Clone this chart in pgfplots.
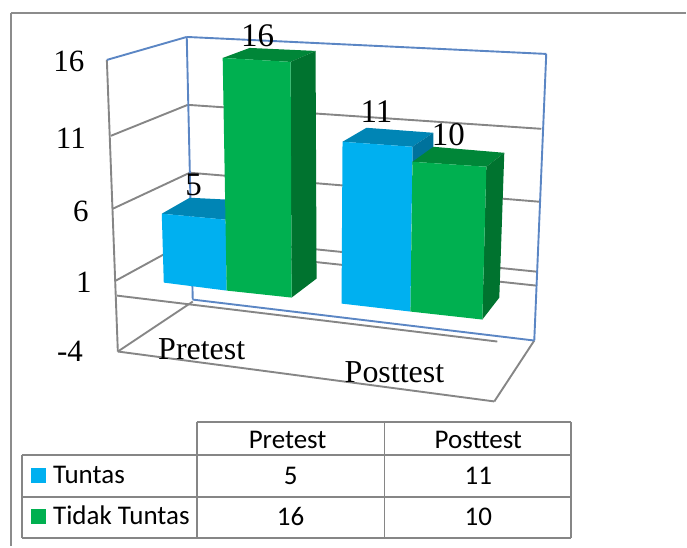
\documentclass[border=0pt]{standalone}
\usepackage{pgfplots}
\pgfplotsset{compat=1.18}
\usepackage{fontspec}
\setmainfont{Liberation Serif}
\newfontfamily\tablefont{Carlito}
\definecolor{tuntas}{HTML}{00B0F0}
\definecolor{tuntastop}{HTML}{0085B5}
\definecolor{tuntasside}{HTML}{00729C}
\definecolor{tidak}{HTML}{00B050}
\definecolor{tidaktop}{HTML}{008638}
\definecolor{tidakside}{HTML}{00732F}
\definecolor{gridgrey}{HTML}{868686}
\definecolor{wallblue}{HTML}{5B86C4}
\definecolor{framegrey}{HTML}{8C8C8C}
% straight segment in drawing coordinates
\newcommand{\seg}[3]{\addplot[#1,line width=1.9pt,no marks] coordinates {#2 #3};}
% one polygon of a bar: each vertex is "x  base  value  pixels-per-unit"
\newcommand{\face}[2]{\addplot[fill=#1,draw=none,no marks] table[row sep=\\,x=x,y expr=\thisrow{b}-\thisrow{v}*\thisrow{k}] {x b v k\\ #2};}
\begin{document}
\begin{tikzpicture}
\begin{axis}[
  scale only axis,width=687pt,height=547pt,
  xmin=0,xmax=687,ymin=0,ymax=547,y dir=reverse,
  hide axis,clip=false,
  /pgf/number format/assume math mode=true,
]
% keep the whole drawing area on the page
\path (axis cs:0,0) rectangle (axis cs:687,547);
% page frame
\seg{framegrey}{(11,547)}{(11,13)}
\seg{framegrey}{(11,13)}{(687,13)}
% side wall, back wall and floor
\seg{gridgrey}{(107,60)}{(118,352)}
\seg{gridgrey}{(111,136)}{(188,105)}
\seg{gridgrey}{(113,209)}{(190,173)}
\seg{gridgrey}{(116,281)}{(191,240)}
\seg{gridgrey}{(118,352)}{(193,302)}
\seg{gridgrey}{(188,105)}{(542,129)}
\seg{gridgrey}{(190,173)}{(540,202)}
\seg{gridgrey}{(191,237)}{(537,272)}
\seg{gridgrey}{(200,250)}{(537,286)}
\seg{gridgrey}{(117,296)}{(498,342)}
\seg{gridgrey}{(118,352)}{(495,402)}
\seg{gridgrey}{(495,402)}{(535,341)}
\seg{wallblue}{(107,60)}{(187,37)}
\seg{wallblue}{(187,37)}{(547,54)}
\seg{wallblue}{(187,37)}{(193,300)}
\seg{wallblue}{(547,54)}{(535,341)}
\seg{wallblue}{(193,300)}{(535,341)}
% Pretest, Tuntas = 5
\face{tuntastop}{
162 283 5 13.8\\
190 268 5 14.0\\
230 270 5 14.0\\
226 291 5 14.2\\
}
\face{tuntas}{
164 283 0 13.8\\
162 283 5 13.8\\
226 291 5 14.2\\
227 291 0 14.2\\
}
% Pretest, Tidak Tuntas = 16
\face{tidaktop}{
223 291 16 14.56\\
250 276 16 14.25\\
316 279 16 14.25\\
291 298 16 14.75\\
}
\face{tidakside}{
291 298 16 14.75\\
316 279 16 14.25\\
317 279 0 14.25\\
292 298 0 14.75\\
}
\face{tidak}{
227 291 0 14.56\\
223 291 16 14.56\\
291 298 16 14.75\\
292 298 0 14.75\\
}
% Posttest, Tuntas = 11
\face{tuntastop}{
343 304 11 14.73\\
367 290 11 14.73\\
434 295 11 14.73\\
413 312 11 15.0\\
}
\face{tuntasside}{
413 312 11 15.0\\
434 295 11 14.73\\
434 295 9.8 14.73\\
413 312 9.8 15.0\\
}
\face{tuntas}{
342 304 0 14.73\\
343 304 11 14.73\\
413 312 11 15.0\\
411 312 0 15.0\\
}
% Posttest, Tidak Tuntas = 10
\face{tidaktop}{
413 312 10 15.0\\
434 298 10 15.1\\
505 298 10 14.5\\
487 320 10 15.3\\
}
\face{tidakside}{
487 320 10 15.3\\
505 298 10 14.5\\
500 298 0 14.5\\
483 320 0 15.3\\
}
\face{tidak}{
411 312 0 15.0\\
413 312 10 15.0\\
487 320 10 15.3\\
483 320 0 15.3\\
}
% value labels above the bars
\addplot[draw=none,no marks,point meta=explicit,
  nodes near coords,
  nodes near coords style={font=\fontsize{33}{33}\selectfont,anchor=center,text=black,inner sep=0pt},
] table[x=x,y=y,meta=v,row sep=\\] {
x y v\\
194 185 5\\
258 36 16\\
377 112 11\\
449 135 10\\
};
% value axis labels and category labels
\begin{scope}[every node/.style={font=\fontsize{31}{31}\selectfont,inner sep=0pt,anchor=center}]
\node at (axis cs:69,61) {16};
\node at (axis cs:71,138) {11};
\node at (axis cs:81,212) {6};
\node at (axis cs:84,283) {1};
\node at (axis cs:70,352) {-4};
\end{scope}
\begin{scope}[every node/.style={font=\fontsize{32}{32}\selectfont,inner sep=0pt,anchor=center}]
\node at (axis cs:202,350) {Pretest};
\node at (axis cs:395,373) {Posttest};
\end{scope}
% data table under the plot
\seg{gridgrey}{(197,423)}{(572,423)}
\seg{gridgrey}{(22,456)}{(572,456)}
\seg{gridgrey}{(22,498)}{(572,498)}
\seg{gridgrey}{(22,539)}{(572,539)}
\seg{gridgrey}{(22,456)}{(22,539)}
\seg{gridgrey}{(197,423)}{(197,539)}
\seg{gridgrey}{(385,423)}{(385,539)}
\seg{gridgrey}{(572,423)}{(572,539)}
\addplot[fill=tuntas,draw=none] coordinates {(31,469) (46,469) (46,484) (31,484)};
\addplot[fill=tidak,draw=none] coordinates {(31,510) (46,510) (46,525) (31,525)};
\begin{scope}[every node/.style={font=\tablefont\fontsize{27}{27}\selectfont,inner sep=0pt}]
\node[anchor=base west] at (axis cs:53,484) {Tuntas};
\node[anchor=base west] at (axis cs:53,525) {Tidak Tuntas};
\node[anchor=base] at (axis cs:288,449) {Pretest};
\node[anchor=base] at (axis cs:479,449) {Posttest};
\node[anchor=base] at (axis cs:291,485) {5};
\node[anchor=base] at (axis cs:479,485) {11};
\node[anchor=base] at (axis cs:291,526) {16};
\node[anchor=base] at (axis cs:479,526) {10};
\end{scope}
\end{axis}
\end{tikzpicture}
\end{document}
